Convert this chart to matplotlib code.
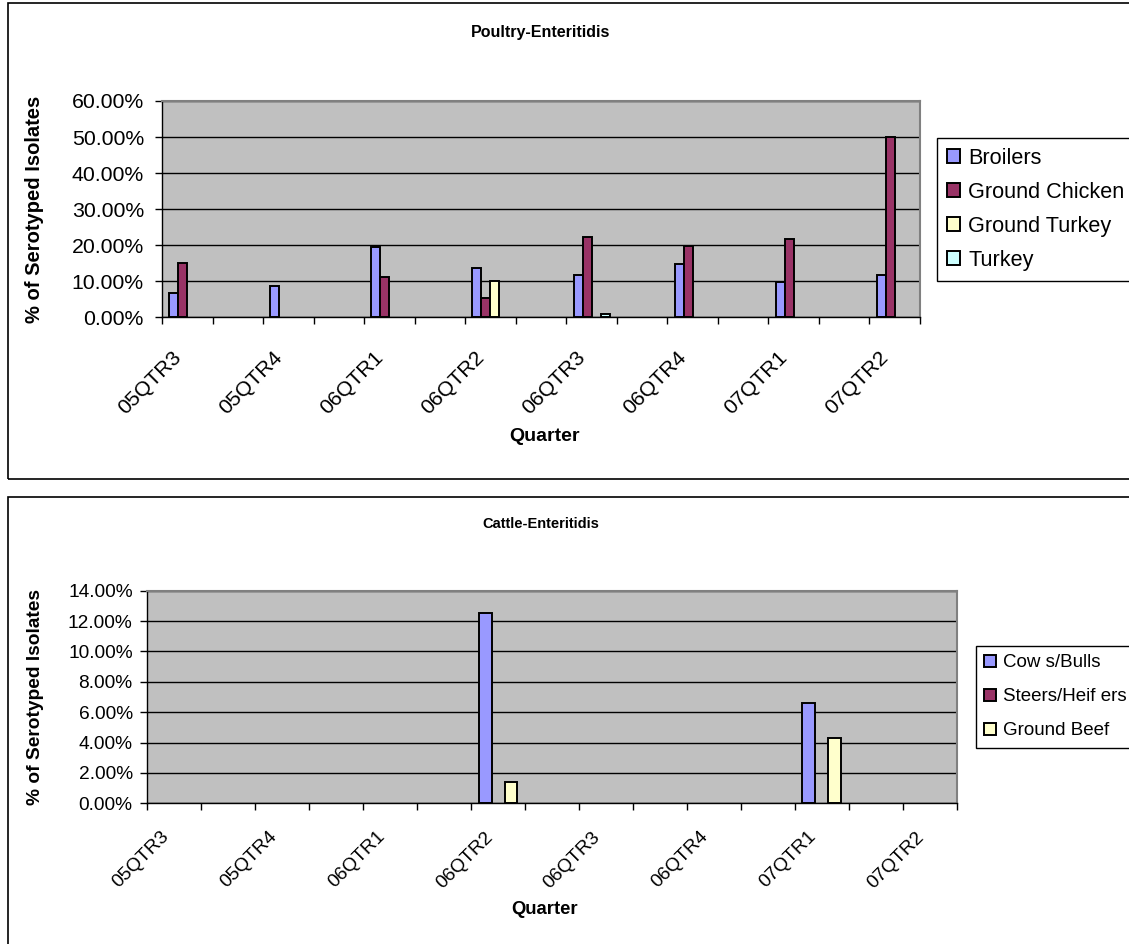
import matplotlib
matplotlib.use('Agg')
import matplotlib.pyplot as plt
import numpy as np
from matplotlib.patches import Rectangle
from matplotlib.ticker import FuncFormatter
from matplotlib.transforms import ScaledTranslation, blended_transform_factory

plt.rcParams['font.family'] = ['Liberation Sans', 'DejaVu Sans']

# dati (percentuali)
quarters = ['05QTR3', '05QTR4', '06QTR1', '06QTR2', '06QTR3', '06QTR4', '07QTR1', '07QTR2']

poultry_series = ['Broilers', 'Ground Chicken', 'Ground Turkey', 'Turkey']
broilers = [6.8, 8.8, 19.6, 13.7, 11.8, 14.8, 9.9, 11.8]
ground_chicken = [15.2, 0, 11.2, 5.4, 22.2, 19.7, 21.7, 50.0]
ground_turkey = [0, 0, 0, 10.2, 0, 0, 0, 0]
turkey = [0, 0, 0, 0, 0.9, 0, 0, 0]

cattle_series = ['Cow s/Bulls', 'Steers/Heif ers', 'Ground Beef']
cows_bulls = [0, 0, 0, 12.5, 0, 0, 6.6, 0]
steers_heifers = [0, 0, 0, 0, 0, 0, 0, 0]
ground_beef = [0, 0, 0, 1.4, 0, 0, 4.3, 0]

colours = ['#9999FF', '#993366', '#FFFFCC', '#CCFFFF']

W, H = 1129, 944
fig = plt.figure(figsize=(W / 100, H / 100), dpi=100)


def fx(px):
    return px / W


def fy(py):
    return 1 - py / H


# cornici dei due grafici
fig.patches.append(Rectangle((fx(7.5), fy(479)), 1.2, fy(3) - fy(479), transform=fig.transFigure,
                             fill=False, edgecolor='black', linewidth=1.2))
fig.patches.append(Rectangle((fx(7.5), fy(960)), 1.2, fy(497) - fy(960), transform=fig.transFigure,
                             fill=False, edgecolor='black', linewidth=1.2))


def draw_chart(box, series_vals, names, width, ymax, ystep, sizes, title, title_y, xlab_y,
               leg_pos, leg_spacing, pad, dx, ypad):
    fs_tick, fs_leg, fs_title, fs_lab = sizes
    ax = fig.add_axes(box)
    ax.set_facecolor('#C0C0C0')
    centers = np.arange(len(quarters)) * 2
    n = len(series_vals)
    handles = []
    for i, vals in enumerate(series_vals):
        vals = np.array(vals, dtype=float)
        vals[vals == 0] = np.nan  # Excel non disegna le barre a zero
        b = ax.bar(centers + (i - (n - 1) / 2) * width, vals, width, color=colours[i],
                   edgecolor='black', linewidth=1.4, zorder=3)
        handles.append(b)
    ax.set_xlim(-0.5, 2 * len(quarters) - 1.5)
    ax.set_ylim(0, ymax)
    ax.set_yticks(np.arange(0, ymax + ystep / 2, ystep))
    ax.yaxis.set_major_formatter(FuncFormatter(lambda v, p: f'{v:.2f}%'))
    ax.grid(axis='y', color='black', linewidth=1, zorder=1)
    ax.set_xticks(np.arange(-0.5, 2 * len(quarters) - 1, 1))
    ax.set_xticklabels([])
    ax.set_xticks(centers, minor=True)
    ax.set_xticklabels(quarters, minor=True, rotation=45, ha='right', va='top',
                       rotation_mode='anchor', fontsize=fs_tick)
    ax.tick_params(axis='x', which='minor', length=0, pad=pad)
    ax.tick_params(axis='x', which='major', length=5, width=1, direction='out')
    ax.tick_params(axis='y', length=5, width=1, direction='out', labelsize=fs_tick, pad=ypad)
    # spostamento orizzontale delle etichette ruotate (dopo tick_params)
    for lab in ax.get_xticklabels(minor=True):
        lab.set_transform(lab.get_transform() + ScaledTranslation(dx / 100, 0, fig.dpi_scale_trans))
    for s in ['top', 'right']:
        ax.spines[s].set_color('#808080')
        ax.spines[s].set_linewidth(1.5)
    for s in ['left', 'bottom']:
        ax.spines[s].set_color('black')
        ax.spines[s].set_linewidth(1)
    ax.set_ylabel('% of Serotyped Isolates', fontsize=fs_lab, fontweight='bold')
    ax.yaxis.set_label_coords(fx(44), 0.5,
                              transform=blended_transform_factory(fig.transFigure, ax.transAxes))
    fig.text(fx(541), fy(title_y), title, ha='center', va='center', fontsize=fs_title, fontweight='bold')
    fig.text(fx(545), fy(xlab_y), 'Quarter', ha='center', va='center', fontsize=fs_lab - 0.5,
             fontweight='bold')
    leg = fig.legend(handles, names, loc='upper left', bbox_to_anchor=(fx(leg_pos[0]), fy(leg_pos[1])),
                     bbox_transform=fig.transFigure, borderaxespad=0, fontsize=fs_leg,
                     handlelength=0.6, handleheight=0.6, handletextpad=0.4, labelspacing=leg_spacing,
                     borderpad=0.45, fancybox=False, framealpha=1)
    leg.get_frame().set_edgecolor('black')
    leg.get_frame().set_linewidth(1)
    return ax


draw_chart([fx(162), fy(317.3), fx(920) - fx(162), fy(101) - fy(317.3)],
           [broilers, ground_chicken, ground_turkey, turkey], poultry_series,
           0.178, 60, 10, (15.3, 15.6, 11.5, 14.5), 'Poultry-Enteritidis', 33, 437,
           (937, 138), 0.6, 22, -16, 8)

draw_chart([fx(147.3), fy(803.3), fx(956.7) - fx(147.3), fy(590.7) - fy(803.3)],
           [cows_bulls, steers_heifers, ground_beef], cattle_series,
           0.24, 14, 2, (13.8, 13.5, 10.5, 13.8), 'Cattle-Enteritidis', 524, 909,
           (976, 646), 0.9, 18, -14, 5.5)

fig.savefig('out.png', dpi=100)
